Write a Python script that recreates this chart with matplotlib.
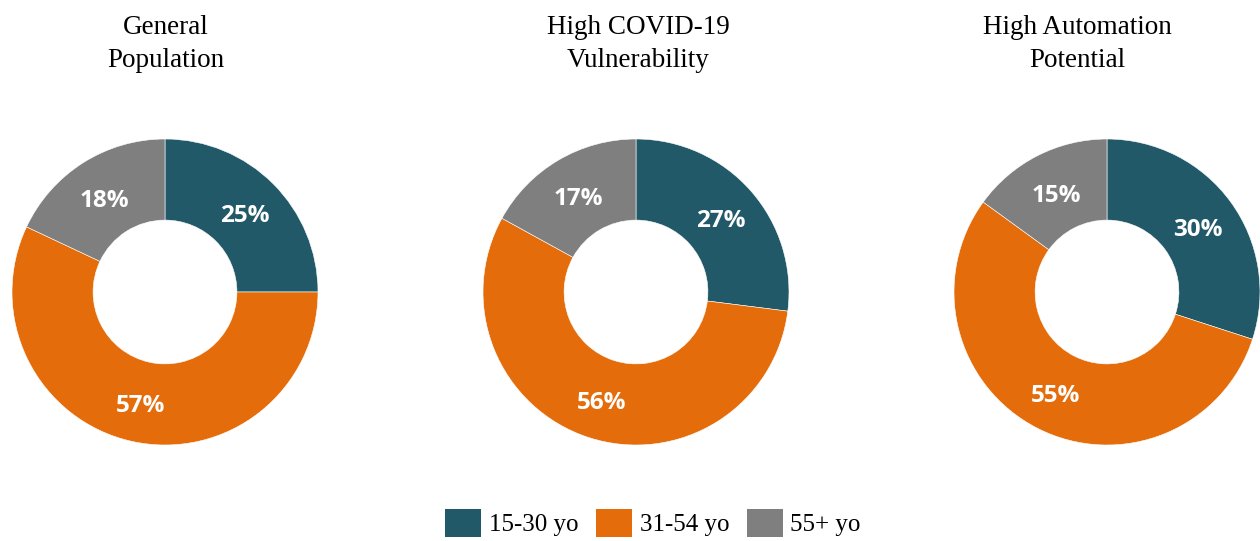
import matplotlib
matplotlib.use("Agg")
import matplotlib.pyplot as plt
from matplotlib.patches import Patch

W, H = 1260, 541

titles = ["General\nPopulation", "High COVID-19\nVulnerability", "High Automation\nPotential"]
groups = ["15-30 yo", "31-54 yo", "55+ yo"]
general = [25, 57, 18]
covid = [27, 56, 17]
automation = [30, 55, 15]
colors = ["#215968", "#E46C0A", "#7F7F7F"]

# pixel layout: donut centres / title centres
centers_x = [165, 636, 1107]
title_x = [166, 638, 1077]
center_y = 292
radius_px = 153

fig = plt.figure(figsize=(W / 100, H / 100), dpi=100)

for data, cx, tx, title in zip([general, covid, automation], centers_x, title_x, titles):
    ax = fig.add_axes([(cx - radius_px) / W, (H - center_y - radius_px) / H,
                       2 * radius_px / W, 2 * radius_px / H])
    _, _, autotexts = ax.pie(
        data, colors=colors, startangle=90, counterclock=False, radius=1,
        autopct=lambda p: f"{p:.0f}%", pctdistance=0.735,
        wedgeprops=dict(width=0.53, edgecolor="white", linewidth=0.4),
        textprops=dict(color="white", fontsize=17.5, fontweight="bold",
                       family="Open Sans"))
    # labels sit a touch lower than the geometric centre in the original
    for t in autotexts:
        x, y = t.get_position()
        t.set_position((x, y - 0.025))
    ax.set_xlim(-1, 1)
    ax.set_ylim(-1, 1)
    ax.set_aspect("equal")
    ax.axis("off")
    fig.text(tx / W, 1 - 44 / H, title, ha="center", va="center",
             fontsize=19.5, family="Liberation Serif", linespacing=1.4)

handles = [Patch(facecolor=c, edgecolor="none") for c in colors]
fig.legend(handles, groups, loc="center", bbox_to_anchor=(653 / W, 18 / H),
           ncol=3, frameon=False, borderpad=0, handlelength=1.45, handleheight=1.4,
           handletextpad=0.3, columnspacing=0.7,
           prop=dict(family="Liberation Serif", size=18))

fig.savefig("out.png", dpi=100)
